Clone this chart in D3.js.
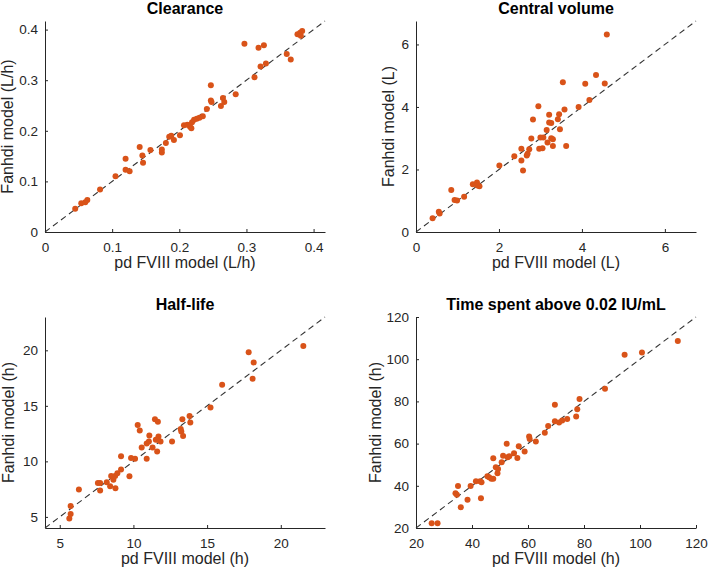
<!DOCTYPE html>
<html>
<head>
<meta charset="utf-8">
<script src="https://cdn.jsdelivr.net/npm/d3@7"></script>
<style>
  body { margin: 0; background: #fff; }
  svg { display: block; font-family: Arial, "Liberation Sans", Helvetica, sans-serif; }
</style>
</head>
<body>
<svg id="chart" width="708" height="571"></svg>
<script>
// ---------- Data ----------
const clearanceX = [0.045,0.054,0.060,0.063,0.082,0.105,0.120,0.120,0.126,0.141,0.145,0.146,0.157,0.174,0.174,0.180,0.185,0.188,0.192,0.201,0.207,0.212,0.216,0.218,0.219,0.222,0.226,0.230,0.235,0.241,0.247,0.247,0.248,0.262,0.265,0.267,0.284,0.297,0.312,0.318,0.321,0.326,0.329,0.360,0.366,0.376,0.380,0.383,0.381];
const clearanceY = [0.046,0.057,0.059,0.063,0.084,0.110,0.145,0.123,0.120,0.168,0.151,0.137,0.162,0.163,0.157,0.176,0.188,0.190,0.182,0.191,0.211,0.212,0.208,0.205,0.217,0.222,0.224,0.226,0.229,0.243,0.290,0.260,0.257,0.249,0.265,0.257,0.272,0.372,0.306,0.364,0.327,0.369,0.333,0.352,0.341,0.391,0.394,0.397,0.388];

const volumeX = [0.40,0.55,0.57,0.85,0.93,0.99,1.16,1.37,1.47,1.53,1.48,2.01,2.37,2.54,2.54,2.58,2.67,2.69,2.73,2.78,2.82,2.95,2.97,3.00,3.05,3.07,3.15,3.17,3.21,3.21,3.26,3.26,3.30,3.30,3.42,3.45,3.47,3.54,3.58,3.62,3.92,4.08,4.18,4.34,4.55,4.60];
const volumeY = [0.44,0.65,0.59,1.34,1.02,1.01,1.13,1.53,1.58,1.46,1.49,2.13,2.42,2.66,2.29,1.97,2.45,2.50,2.65,2.99,3.60,4.02,2.66,3.02,2.68,3.02,3.26,2.86,3.75,3.50,3.49,3.00,2.75,2.97,3.61,3.77,3.29,4.79,3.92,2.75,4.00,4.74,4.22,5.02,4.75,6.32];

const halfLifeX = [5.65,5.74,5.74,6.30,7.59,7.74,7.74,8.19,8.42,8.49,8.64,8.76,8.78,8.91,9.16,9.16,9.73,9.84,10.11,10.29,10.43,10.56,10.90,10.90,11.05,11.08,11.30,11.46,11.52,11.61,11.66,11.70,11.84,11.66,12.62,13.21,13.25,13.32,13.37,13.81,13.86,15.23,16.02,17.82,18.09,18.16,21.53];
const halfLifeY = [4.85,5.27,5.98,7.46,8.05,8.05,7.37,8.11,7.75,8.69,8.34,8.69,7.57,8.93,9.26,10.47,8.66,10.30,10.24,13.27,12.77,11.24,10.24,11.61,11.79,12.32,11.24,13.79,11.94,10.89,13.56,12.23,11.79,11.94,11.79,12.92,12.69,13.79,12.29,14.08,13.49,14.85,16.89,19.82,17.43,18.91,20.38];

const timeX = [25.6,27.7,34.1,35.0,34.6,36.0,38.4,39.5,41.4,42.9,43.4,43.2,45.5,46.1,46.9,47.6,47.6,48.5,49.1,49.3,50.6,51.1,52.4,52.7,53.3,55.0,56.2,56.7,58.8,60.4,60.6,62.8,66.0,67.2,69.6,69.6,71.1,72.2,74.0,77.2,77.6,78.4,87.5,94.5,100.7,113.5];
const timeY = [22.2,22.2,36.5,39.9,35.8,29.8,33.4,39.9,42.2,42.2,41.7,34.1,44.5,44.1,43.3,43.4,53.1,48.8,45.9,48.0,51.2,54.2,59.9,53.5,54.0,55.4,53.2,58.8,56.2,63.4,62.2,61.0,65.1,68.3,70.6,78.4,70.0,70.9,71.7,72.8,76.3,81.1,86.0,102.1,103.2,108.6];

const titles = ["Clearance", "Central volume", "Half-life", "Time spent above 0.02 IU/mL"];
const xLabels = ["pd FVIII model (L/h)", "pd FVIII model (L)", "pd FVIII model (h)", "pd FVIII model (h)"];
const yLabels = ["Fanhdi model (L/h)", "Fanhdi model (L)", "Fanhdi model (h)", "Fanhdi model (h)"];
const domains = [[0, 0.417], [0, 6.75], [4, 23], [20, 120]];
const tickValues = [[0, 0.1, 0.2, 0.3, 0.4], [0, 2, 4, 6], [5, 10, 15, 20], [20, 40, 60, 80, 100, 120]];

// ---------- Layout ----------
const boxes = [
  {x0: 45, x1: 325, y0: 21, y1: 232, ylx: 13},
  {x0: 416, x1: 696, y0: 21, y1: 232, ylx: 394},
  {x0: 45, x1: 325, y0: 317, y1: 528, ylx: 14},
  {x0: 416, x1: 696, y0: 317, y1: 528, ylx: 381}
];
const seriesX = [clearanceX, volumeX, halfLifeX, timeX];
const seriesY = [clearanceY, volumeY, halfLifeY, timeY];

const svg = d3.select("#chart");
const axisColor = "#262626";
const dotColor = "#D95319";

boxes.forEach((b, i) => {
  const x = d3.scaleLinear().domain(domains[i]).range([b.x0, b.x1]);
  const y = d3.scaleLinear().domain(domains[i]).range([b.y1, b.y0]);
  const g = svg.append("g");
  const fmt = v => (v === 0 ? "0" : String(v));

  const xa = g.append("g").attr("transform", `translate(0,${b.y1})`)
    .call(d3.axisBottom(x).tickValues(tickValues[i]).tickFormat(fmt).tickSizeInner(-3).tickSizeOuter(0).tickPadding(10));
  const ya = g.append("g").attr("transform", `translate(${b.x0},0)`)
    .call(d3.axisLeft(y).tickValues(tickValues[i]).tickFormat(fmt).tickSizeInner(-3).tickSizeOuter(0).tickPadding(7));
  [xa, ya].forEach(a => {
    a.select(".domain").attr("stroke", axisColor).attr("stroke-width", 1);
    a.selectAll(".tick line").attr("stroke", axisColor);
    a.selectAll(".tick text").attr("fill", axisColor).attr("font-size", 13.5);
  });

  g.append("line")
    .attr("x1", x(domains[i][0])).attr("y1", y(domains[i][0]))
    .attr("x2", x(domains[i][1])).attr("y2", y(domains[i][1]))
    .attr("stroke", "#333").attr("stroke-width", 1.1).attr("stroke-dasharray", "6,4");

  const pts = seriesX[i].map((v, k) => [v, seriesY[i][k]]);
  g.selectAll("circle").data(pts).enter().append("circle")
    .attr("cx", d => x(d[0])).attr("cy", d => y(d[1])).attr("r", 3)
    .attr("fill", dotColor);

  g.append("text").attr("x", (b.x0 + b.x1) / 2).attr("y", b.y0 - 7)
    .attr("text-anchor", "middle").attr("font-weight", "bold").attr("font-size", 16)
    .attr("fill", "#000").text(titles[i]);
  g.append("text").attr("x", (b.x0 + b.x1) / 2).attr("y", b.y1 + 36)
    .attr("text-anchor", "middle").attr("font-size", 16).attr("fill", axisColor).text(xLabels[i]);
  g.append("text").attr("transform", `translate(${b.ylx},${(b.y0 + b.y1) / 2}) rotate(-90)`)
    .attr("text-anchor", "middle").attr("font-size", 16).attr("fill", axisColor).text(yLabels[i]);
});
</script>
</body>
</html>
